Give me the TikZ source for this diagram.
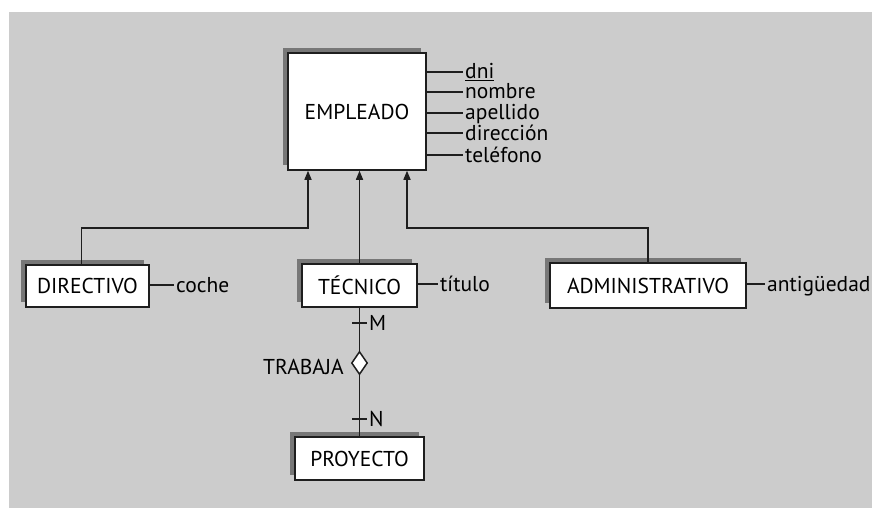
\documentclass[tikz,border=0pt]{standalone}
\usepackage{fontspec}
\setmainfont{PT Sans}
\usetikzlibrary{arrows.meta,shapes.geometric,shadows}

\definecolor{fondo}{HTML}{CCCCCC}
\definecolor{sombra}{HTML}{777777}
\definecolor{trazo}{HTML}{1E1E1E}

\tikzset{
  entidad/.style={draw=trazo, line width=1.5pt, fill=white, inner sep=0pt,
    general shadow={fill=sombra, shadow xshift=-5pt, shadow yshift=5pt}},
  atributo/.style={anchor=west, inner xsep=2pt, inner ysep=0pt, text height=14pt, text depth=0pt},
  relacion/.style={diamond, draw=trazo, line width=1.5pt, fill=white, inner sep=0pt,
    minimum width=16pt, minimum height=23pt},
  linea/.style={draw=trazo, line width=1.4pt},
  isa/.style={linea, -{Triangle[length=9pt,width=7pt]}}
}

\begin{document}
\begin{tikzpicture}[x=1pt, y=-1pt, font=\fontsize{21.5}{23}\selectfont]
  \fill[fondo] (9,12) rectangle (872,508);
  \useasboundingbox (0,0) rectangle (872,508);

  % entidades
  \node[entidad, minimum width=138pt, minimum height=117pt] (emp) at (357,111.5) {EMPLEADO};
  \node[entidad, minimum width=123pt, minimum height=42pt] (dir) at (87.5,286) {DIRECTIVO};
  \node[entidad, minimum width=115pt, minimum height=43pt] (tec) at (359.5,285.5) {TÉCNICO};
  \node[entidad, minimum width=196pt, minimum height=45pt] (adm) at (648,285.5) {ADMINISTRATIVO};
  \node[entidad, minimum width=129pt, minimum height=43pt] (proy) at (359.5,458.5) {PROYECTO};

  % atributos
  \foreach \txt/\y [count=\i] in {\underline{dni}/72, nombre/92, apellido/113, dirección/133, teléfono/155}{
    \node[atributo] (a\i) at (463,\y) {\txt};
    \draw[linea] (emp.east |- a\i.west) -- (a\i.west);
  }
  \node[atributo] (coche) at (174,285) {coche};
  \node[atributo] (titulo) at (438,284) {título};
  \node[atributo] (antig) at (765,284) {antigüedad};
  \draw[linea] (dir.east |- coche.west) -- (coche.west);
  \draw[linea] (tec.east |- titulo.west) -- (titulo.west);
  \draw[linea] (adm.east |- antig.west) -- (antig.west);

  % generalizacion
  \coordinate (barra) at (0,228);
  \draw[isa] ([xshift=-6pt]dir.north) |- ([xshift=-49pt]emp.south |- barra) -- ([xshift=-49pt]emp.south);
  \draw[isa] (tec.north) -- (tec.north |- emp.south);
  \draw[isa] (adm.north) |- ([xshift=50pt]emp.south |- barra) -- ([xshift=50pt]emp.south);

  % relacion TRABAJA
  \node[relacion] (trab) at (359.5,363) {};
  \node[atributo, anchor=east] (trabtxt) at (346,367) {TRABAJA};
  \draw[linea] (tec.south) -- (trab.north);
  \draw[linea] (trab.south) -- (proy.north);
  \node[atributo] (M) at (367,323) {M};
  \node[atributo] (N) at (367,419) {N};
  \draw[linea] ([xshift=-15pt]M.west) -- (M.west);
  \draw[linea] ([xshift=-15pt]N.west) -- (N.west);
\end{tikzpicture}
\end{document}
